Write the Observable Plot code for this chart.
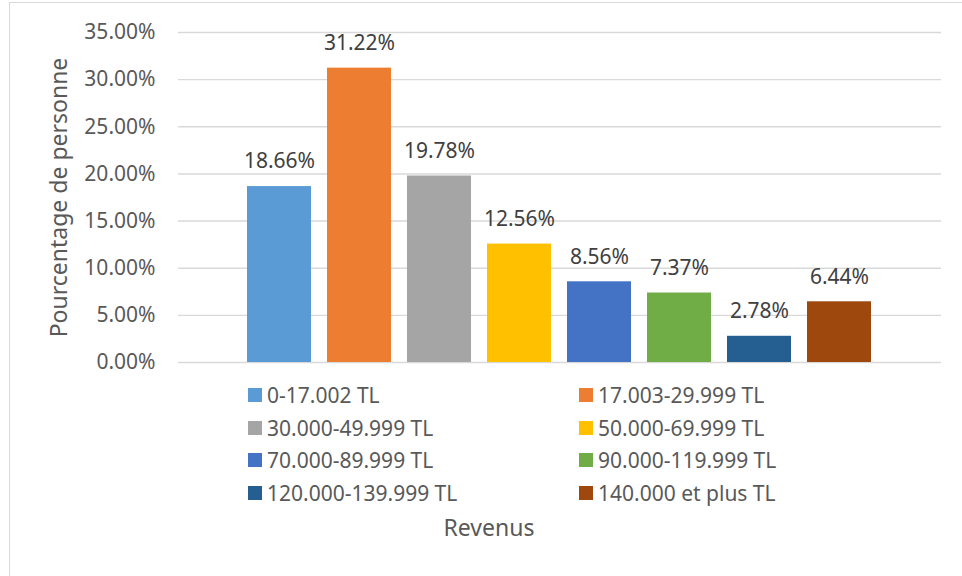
<!DOCTYPE html>
<html>
<head>
<meta charset="utf-8">
<script src="https://cdn.jsdelivr.net/npm/d3@7"></script>
<script src="https://cdn.jsdelivr.net/npm/@observablehq/plot@0.6"></script>
<style>
  html, body { margin: 0; padding: 0; background: #fff; }
  #wrap { position: relative; width: 962px; height: 576px; overflow: hidden; font-family: "Noto Sans", sans-serif; }
  #frame { position: absolute; left: 9px; top: 2px; right: -10px; bottom: -10px; border-left: 1.5px solid #d9d9d9; border-top: 1.5px solid #d9d9d9; pointer-events: none; }
  #chart { position: absolute; left: 0; top: 0; }
  #legend { position: absolute; left: 248px; top: 378.6px; display: grid; grid-template-columns: 331px 331px; grid-auto-rows: 32.7px; color: #595959; font-size: 21px; }
  .item { display: flex; align-items: center; height: 32.7px; white-space: nowrap; }
  .sw { width: 14px; height: 14px; margin-right: 5px; flex: none; }
  #xtitle { position: absolute; left: 289px; width: 400px; top: 511px; text-align: center; color: #595959; font-size: 23px; line-height: 32px; }
</style>
</head>
<body>
<div id="wrap">
  <div id="chart"></div>
  <div id="legend"></div>
  <div id="xtitle"></div>
  <div id="frame"></div>
</div>
<script>
const categories = ["0-17.002 TL", "17.003-29.999 TL", "30.000-49.999 TL", "50.000-69.999 TL", "70.000-89.999 TL", "90.000-119.999 TL", "120.000-139.999 TL", "140.000 et plus TL"];
const values = [18.66, 31.22, 19.78, 12.56, 8.56, 7.37, 2.78, 6.44];
const colors = ["#5B9BD5", "#ED7D31", "#A5A5A5", "#FFC000", "#4472C4", "#70AD47", "#255E91", "#9E480E"];
const yTicks = [0, 5, 10, 15, 20, 25, 30, 35];
const yTitle = "Pourcentage de personne";
const xTitle = "Revenus";

const data = categories.map((c, i) => ({cat: c, value: values[i]}));
const fmt = d => d.toFixed(2) + "%";

const plot = Plot.plot({
  width: 962,
  height: 385,
  marginTop: 32,
  marginBottom: 23,
  marginLeft: 178,
  marginRight: 21,
  style: {fontFamily: "Noto Sans, sans-serif", background: "transparent", overflow: "visible"},
  x: {domain: categories, range: [239, 879], paddingInner: 0.2, paddingOuter: 0.1, axis: null},
  y: {domain: [0, 35]},
  color: {domain: categories, range: colors},
  marks: [
    Plot.ruleY(yTicks, {stroke: "#d9d9d9", strokeWidth: 1.4}),
    Plot.barY(data, {x: "cat", y: "value", fill: "cat"}),
    Plot.text(data, {x: "cat", y: "value", text: d => fmt(d.value), dy: -25, fill: "#404040", fontSize: 21, textAnchor: "middle", lineAnchor: "middle"}),
    Plot.axisY({ticks: yTicks, tickSize: 0, tickPadding: 23, tickFormat: fmt, fontSize: 21, color: "#595959", label: null}),
    Plot.axisY({ticks: [], tickSize: 0, label: yTitle, labelAnchor: "center", labelArrow: "none", labelOffset: 128, fontSize: 23, color: "#595959"})
  ]
});
document.getElementById("chart").appendChild(plot);

const legend = d3.select("#legend");
categories.forEach((c, i) => {
  const it = legend.append("div").attr("class", "item");
  it.append("div").attr("class", "sw").style("background", colors[i]);
  it.append("span").text(c);
});
document.getElementById("xtitle").textContent = xTitle;
</script>
</body>
</html>
